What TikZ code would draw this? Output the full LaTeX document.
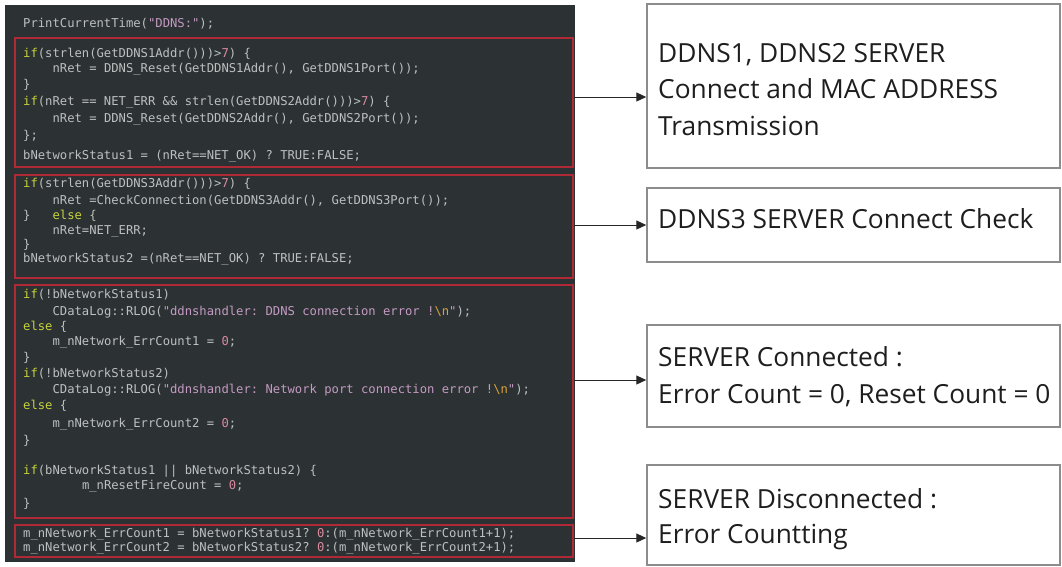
\documentclass[tikz,border=0pt]{standalone}
\usepackage{fontspec}
\setmonofont{DejaVu Sans Mono}
\newfontfamily\labelfont{Open Sans}
\usetikzlibrary{arrows.meta}

\definecolor{panelbg}{HTML}{2C3134}
\definecolor{codefg}{HTML}{BCC0C0}
\definecolor{kwc}{HTML}{C5D33C}
\definecolor{strc}{HTML}{C49AC2}
\definecolor{escc}{HTML}{D9A33A}
\definecolor{numc}{HTML}{D98A9E}
\definecolor{hlred}{HTML}{B02A36}
\definecolor{boxgray}{HTML}{8C8C8C}
\definecolor{labeltext}{HTML}{1E1E1E}

% syntax colouring helpers
\newcommand\kw[1]{\textcolor{kwc}{#1}}
\newcommand\cstr[1]{\textcolor{strc}{#1}}
\newcommand\cesc[1]{\textcolor{escc}{#1}}
\newcommand\cnum[1]{\textcolor{numc}{#1}}

\tikzset{
  code/.style={anchor=mid west, inner sep=0pt, text=codefg,
    font=\ttfamily\fontsize{12.2}{14}\selectfont},
  redbox/.style={draw=hlred, line width=2pt, inner sep=0pt},
  notebox/.style={draw=boxgray, fill=white, line width=1.5pt, inner sep=0pt},
  note/.style={anchor=base west, inner sep=0pt, text=labeltext,
    font=\labelfont\fontsize{26.3}{31}\selectfont},
  arr/.style={draw=black!85, line width=1pt,
    -{Triangle[length=10pt,width=9pt]}}
}

\begin{document}
\begin{tikzpicture}[x=1pt,y=-1pt]
\useasboundingbox (0,0) rectangle (1062,566);
\fill[white] (0,0) rectangle (1062,566);

% editor panel
\fill[panelbg] (5,5) rectangle (575,562);

% highlighted blocks
\node[redbox, minimum width=558pt, minimum height=129pt] (r1) at (294,102.5) {};
\node[redbox, minimum width=558pt, minimum height=103pt] (r2) at (294,226.5) {};
\node[redbox, minimum width=558pt, minimum height=233pt] (r3) at (294,401.5) {};
\node[redbox, minimum width=558pt, minimum height=32pt]  (r4) at (294,541) {};

% source code
\node[code] (c0) at (23,25) {PrintCurrentTime(\cstr{"DDNS:"});};

\node[code] (c1) at (23,55) {\kw{if}(strlen(GetDDNS1Addr()))>\cnum{7}) \{};
\node[code] (c2) at (52.4,70) {nRet = DDNS\_Reset(GetDDNS1Addr(), GetDDNS1Port());};
\node[code] (c3) at (23,86) {\}};
\node[code] (c4) at (23,103) {\kw{if}(nRet == NET\_ERR \&\& strlen(GetDDNS2Addr()))>\cnum{7}) \{};
\node[code] (c5) at (52.4,120) {nRet = DDNS\_Reset(GetDDNS2Addr(), GetDDNS2Port());};
\node[code] (c6) at (23,137) {\};};
\node[code] (c7) at (23,157) {bNetworkStatus1 = (nRet==NET\_OK) ? TRUE:FALSE;};

\node[code] (d1) at (23,185) {\kw{if}(strlen(GetDDNS3Addr()))>\cnum{7}) \{};
\node[code] (d2) at (52.4,202) {nRet =CheckConnection(GetDDNS3Addr(), GetDDNS3Port());};
\node[code] (d3) at (23,217) {\}\phantom{xxx}\kw{else} \{};
\node[code] (d4) at (52.4,232) {nRet=NET\_ERR;};
\node[code] (d5) at (23,246) {\}};
\node[code] (d6) at (23,260) {bNetworkStatus2 =(nRet==NET\_OK) ? TRUE:FALSE;};

\node[code] (e1) at (23,296) {\kw{if}(!bNetworkStatus1)};
\node[code] (e2) at (52.4,313) {CDataLog::RLOG(\cstr{"ddnshandler: DDNS connection error !\cesc{\textbackslash n}"});};
\node[code] (e3) at (23,328) {\kw{else} \{};
\node[code] (e4) at (52.4,343) {m\_nNetwork\_ErrCount1 = \cnum{0};};
\node[code] (e5) at (23,359) {\}};
\node[code] (e6) at (23,375) {\kw{if}(!bNetworkStatus2)};
\node[code] (e7) at (52.4,391) {CDataLog::RLOG(\cstr{"ddnshandler: Network port connection error !\cesc{\textbackslash n}"});};
\node[code] (e8) at (23,407) {\kw{else} \{};
\node[code] (e9) at (52.4,425) {m\_nNetwork\_ErrCount2 = \cnum{0};};
\node[code] (e10) at (23,442) {\}};
\node[code] (e11) at (23,472) {\kw{if}(bNetworkStatus1 || bNetworkStatus2) \{};
\node[code] (e12) at (81.8,487) {m\_nResetFireCount = \cnum{0};};
\node[code] (e13) at (23,505) {\}};

\node[code] (f1) at (23,535) {m\_nNetwork\_ErrCount1 = bNetworkStatus1? \cnum{0}:(m\_nNetwork\_ErrCount1+1);};
\node[code] (f2) at (23,549) {m\_nNetwork\_ErrCount2 = bNetworkStatus2? \cnum{0}:(m\_nNetwork\_ErrCount2+1);};

% explanation boxes
\node[notebox, minimum width=413pt, minimum height=164pt] (bA) at (853.5,86) {};
\node[notebox, minimum width=413pt, minimum height=74pt]  (bB) at (853.5,225) {};
\node[notebox, minimum width=413pt, minimum height=102pt] (bC) at (853.5,376) {};
\node[notebox, minimum width=413pt, minimum height=100pt] (bD) at (853.5,515) {};

\node[note] (tA1) at (658,62)  {DDNS1, DDNS2 SERVER};
\node[note] (tA2) at (658,98)  {Connect and MAC ADDRESS};
\node[note] (tA3) at (658,135) {Transmission};
\node[note] (tB1) at (658,228) {DDNS3 SERVER Connect Check};
\node[note] (tC1) at (658,366) {SERVER Connected :};
\node[note] (tC2) at (658,403) {Error Count = 0, Reset Count = 0};
\node[note] (tD1) at (658,508) {SERVER Disconnected :};
\node[note] (tD2) at (658,543) {Error Countting};

% connectors
\coordinate (ya) at (0,97);
\coordinate (yb) at (0,225);
\coordinate (yc) at (0,380);
\coordinate (yd) at (0,538);
\draw[arr] (r1.east |- ya) -- (bA.west |- ya);
\draw[arr] (r2.east |- yb) -- (bB.west |- yb);
\draw[arr] (r3.east |- yc) -- (bC.west |- yc);
\draw[arr] (r4.east |- yd) -- (bD.west |- yd);
\end{tikzpicture}
\end{document}
